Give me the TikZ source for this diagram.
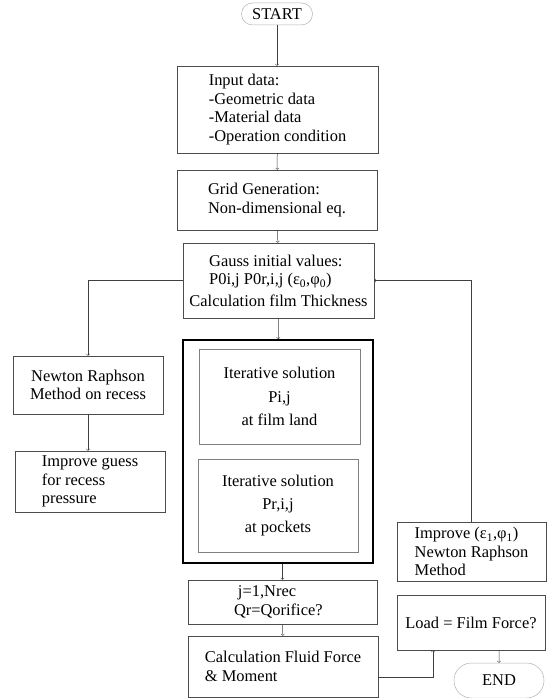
\documentclass[tikz,border=0pt]{standalone}
\usepackage{fontspec}
\setmainfont{Liberation Serif}
\usetikzlibrary{arrows}
\usetikzlibrary{shapes.misc}

\begin{document}
\begin{tikzpicture}[x=1bp,y=-1bp,
	bloc/.style={draw=black!70,line width=0.5pt,font=\fontsize{16.5}{18.5}\selectfont,inner sep=2bp},
	terminal/.style={rounded rectangle,draw=black!30,line width=0.5pt,font=\fontsize{16.5}{18.5}\selectfont,inner sep=1bp},
	lien/.style={->,draw=black!75,line width=0.5pt}]
				\useasboundingbox (0,0) rectangle (552,698);
				% Blocs
				\node[terminal,minimum width=73bp,minimum height=22bp] (start) at (277,14) {START};
				\node[bloc,minimum width=201bp,minimum height=87bp,align=left] (input) at (277.5,109.5) {Input data:\\-Geometric data\\-Material data\\-Operation condition};
				\node[bloc,minimum width=200bp,minimum height=60bp,align=left] (grid) at (277,200) {Grid Generation:\\Non-dimensional eq.};
				\node[bloc,minimum width=191bp,minimum height=75bp,align=left] (gauss) at (278.5,280.5) {\hspace*{1.2em}Gauss initial values:\\\hspace*{1.2em}P0i,j P0r,i,j (ε\textsubscript{0},φ\textsubscript{0})\\[3pt]Calculation film Thickness};
				\node[draw,line width=1.8pt,minimum width=190bp,minimum height=223bp] (iter) at (278,451.5) {};
				\node[bloc,draw=black!50,minimum width=161bp,minimum height=95bp,align=center] (land) at (279.5,396.5) {Iterative solution\\[5pt]Pi,j\\[5pt]at film land};
				\node[bloc,draw=black!50,minimum width=160bp,minimum height=93bp,align=center] (pockets) at (278,505.5) {Iterative solution\\[5pt]Pr,i,j\\[5pt]at pockets};
				\node[bloc,minimum width=150bp,minimum height=58bp,align=center] (newton) at (88,385) {Newton Raphson\\Method on recess};
				\node[bloc,minimum width=150bp,minimum height=61bp,align=left] (guess) at (90,481.5) {Improve guess\\for recess\\pressure};
				\node[bloc,minimum height=44bp,inner xsep=46bp,text width=97bp,align=left] (nrec) at (282.5,602) {\hspace*{4pt}j=1,Nrec\\Qr=Qorifice?};
				\node[bloc,minimum width=190bp,minimum height=61bp,align=left] (force) at (283,666.5) {Calculation Fluid Force\\\& Moment};
				\node[bloc,minimum width=149bp,minimum height=59bp,align=left] (improve) at (471.5,551.5) {Improve (ε\textsubscript{1},φ\textsubscript{1})\\Newton Raphson\\Method};
				\node[bloc,minimum width=148bp,minimum height=55bp,align=center] (load) at (471,622.5) {Load = Film Force?};
				\node[terminal,minimum width=92bp,minimum height=35bp] (finish) at (499,680.5) {END};
				% Liens
				\draw[lien] (start.south) -- (start.south |- input.north);
				\draw[lien] (input) -- (grid);
				\draw[lien] (grid) -- (gauss);
				\draw[lien] (gauss) -- (iter);
				\draw[lien] (gauss.west) -| (newton.north);
				\draw[lien] (newton) -- (newton |- guess.north);
				\draw[lien] (iter.south -| nrec) -- (nrec);
				\draw[lien] (nrec) -- (force);
				\draw[lien] ([yshift=-10.5bp]force.east) -| ([xshift=-38bp]load.south);
				\draw[lien] (load.south -| finish) -- (finish);
				\draw[lien] (improve.north) |- (gauss.east);
\end{tikzpicture}
\end{document}
